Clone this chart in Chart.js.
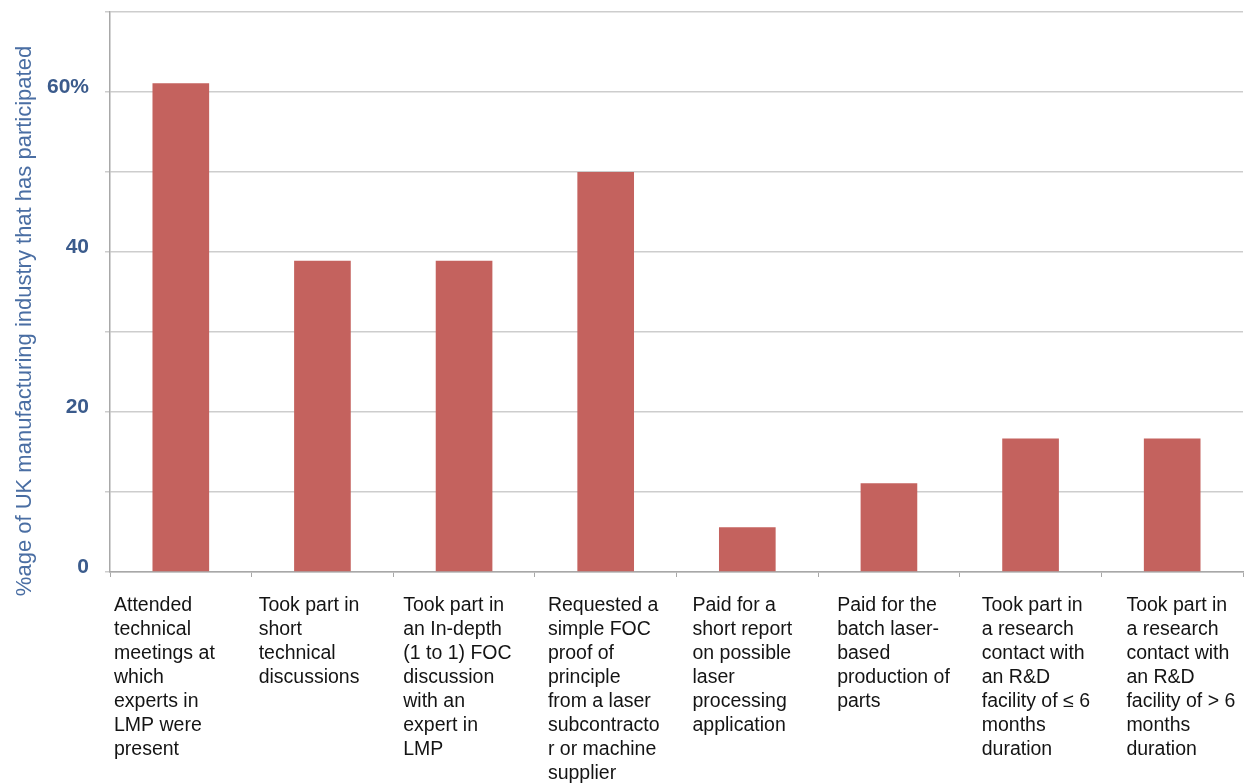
<!DOCTYPE html>
<html>
<head>
<meta charset="utf-8">
<script src="https://cdn.jsdelivr.net/npm/chart.js@4"></script>
<style>
  html, body { margin: 0; background: #fff; }
  #participationChart { display: block; }
</style>
</head>
<body>
<canvas id="participationChart" width="1258" height="784"></canvas>
<script>
// activity categories, one array of wrapped lines per bar
const activityLabels = [
  ['Attended', 'technical', 'meetings at', 'which', 'experts in', 'LMP were', 'present'],
  ['Took part in', 'short', 'technical', 'discussions'],
  ['Took part in', 'an In-depth', '(1 to 1) FOC', 'discussion', 'with an', 'expert in', 'LMP'],
  ['Requested a', 'simple FOC', 'proof of', 'principle', 'from a laser', 'subcontracto', 'r or machine', 'supplier'],
  ['Paid for a', 'short report', 'on possible', 'laser', 'processing', 'application'],
  ['Paid for the', 'batch laser-', 'based', 'production of', 'parts'],
  ['Took part in', 'a research', 'contact with', 'an R&D', 'facility of \u2264 6', 'months', 'duration'],
  ['Took part in', 'a research', 'contact with', 'an R&D', 'facility of > 6', 'months', 'duration'],
];
const participationPct = [61.1, 38.9, 38.9, 50, 5.6, 11.1, 16.7, 16.7];
const yTickLabels = { 0: '0', 20: '20', 40: '40', 60: '60%' };
const yAxisTitle = '%age of UK manufacturing industry that has participated';

const ctx = document.getElementById('participationChart');

// draws the left-aligned wrapped category labels and the rotated y title
const labelPlugin = {
  id: 'labelPlugin',
  afterDraw(chart) {
    const { ctx, chartArea, scales: { x } } = chart;
    const step = x.width / activityLabels.length;
    ctx.save();
    ctx.font = '19.5px "Liberation Sans", Arial, sans-serif';
    ctx.fillStyle = '#141414';
    ctx.textAlign = 'left';
    ctx.textBaseline = 'middle';
    activityLabels.forEach((lines, i) => {
      const left = x.getPixelForValue(i) - step / 2 + 4 + i * 3;
      lines.forEach((line, j) => {
        ctx.fillText(line, left, chartArea.bottom + 34 + j * 24);
      });
    });

    ctx.translate(25, 321);
    ctx.rotate(-Math.PI / 2);
    ctx.textAlign = 'center';
    ctx.fillStyle = '#4a6ea3';
    ctx.font = '22px "Liberation Sans", Arial, sans-serif';
    ctx.fillText(yAxisTitle, 0, 0);
    ctx.restore();
  },
};

new Chart(ctx, {
  type: 'bar',
  data: {
    labels: activityLabels.map((l) => l.join(' ')),
    datasets: [{
      data: participationPct,
      backgroundColor: '#c4625e',
      categoryPercentage: 0.5,
      barPercentage: 0.8,
    }],
  },
  options: {
    responsive: false,
    animation: false,
    layout: { padding: { top: 12, right: 15, left: 0, bottom: 0 } },
    plugins: {
      legend: { display: false },
      tooltip: { enabled: false },
    },
    scales: {
      x: {
        grid: { drawOnChartArea: false, tickLength: 5, color: '#a8a8a8', offset: true },
        border: { color: '#a8a8a8', width: 1.5 },
        ticks: { display: false },
        afterFit(scale) { scale.height = 212; },
      },
      y: {
        min: 0,
        max: 70,
        ticks: {
          stepSize: 10,
          // a trailing empty line lifts each label slightly above its gridline
          callback: (v) => (yTickLabels[v] ? [yTickLabels[v], ''] : ''),
          color: '#3b5b8c',
          font: { family: '"Liberation Sans", Arial, sans-serif', size: 21, weight: 'bold', lineHeight: '9px' },
          padding: 16,
        },
        grid: { color: '#cdcdcd', lineWidth: 1.5, tickLength: 5 },
        border: { color: '#a8a8a8', width: 1.5 },
        afterFit(scale) {
          scale.width = 110;
          scale.paddingTop = 0;
          scale.paddingBottom = 0;
        },
      },
    },
  },
  plugins: [labelPlugin],
});
</script>
</body>
</html>
